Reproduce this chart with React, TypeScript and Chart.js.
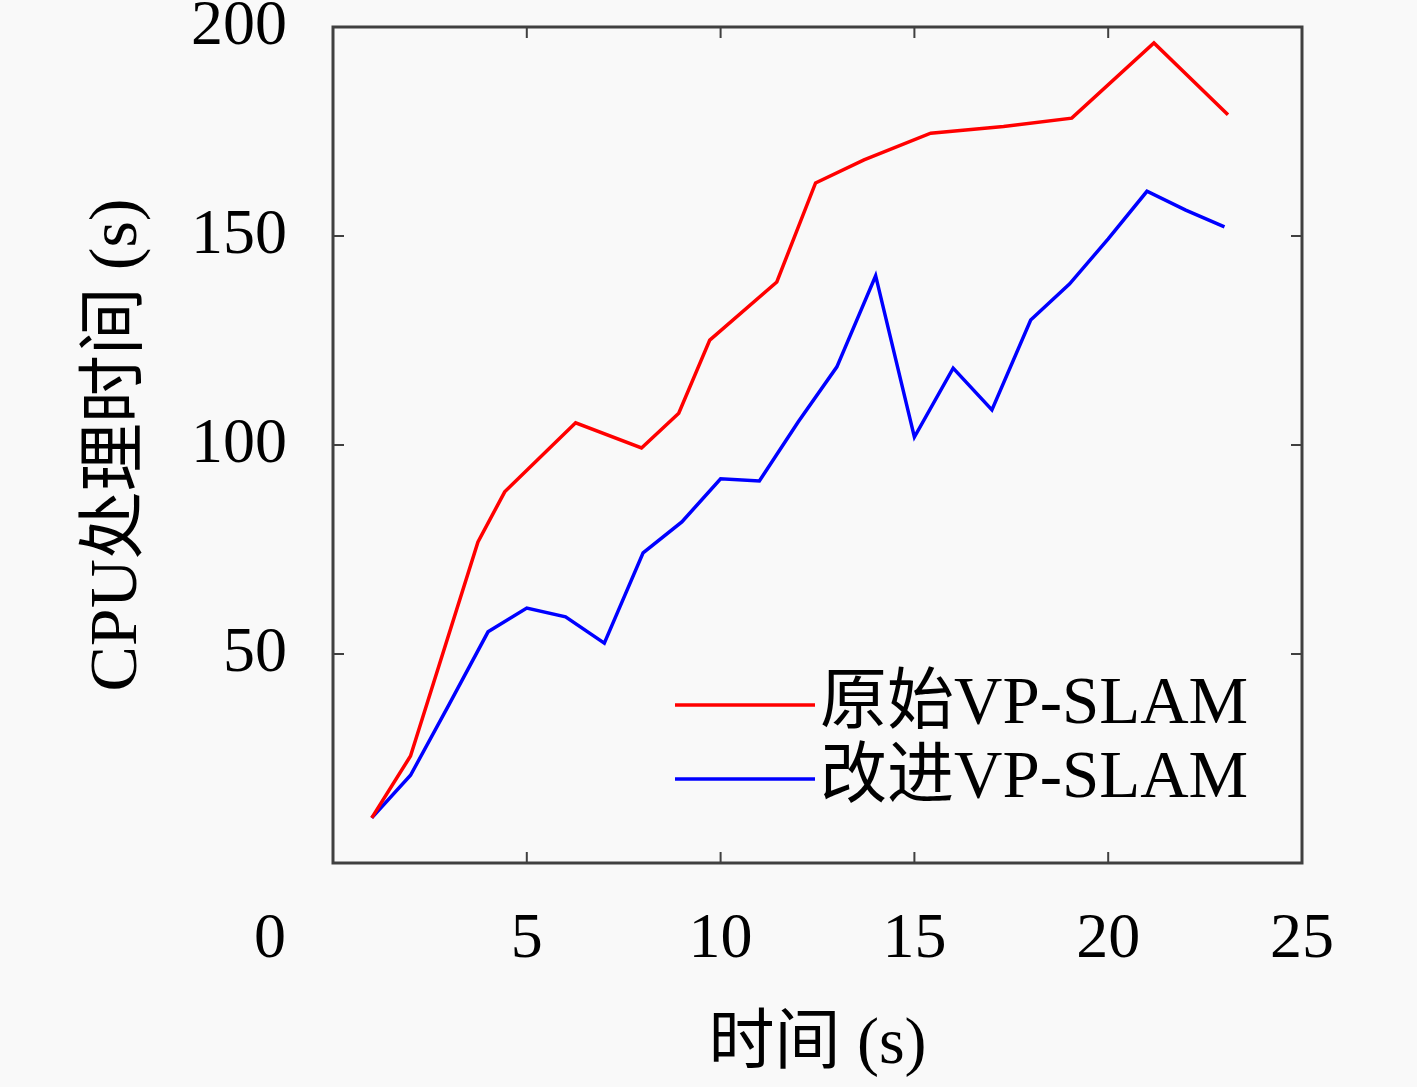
import Chart from 'chart.js/auto';
import { useEffect, useRef } from 'react';

const FONT = "'Liberation Serif', 'Noto Sans CJK SC', serif";
const AXIS_COLOR = '#404040';
const BG = '#f9f9f9';

// 原始VP-SLAM (irregular time stamps)
const originalX = [1.0, 2.0, 3.74, 4.43, 6.26, 7.96, 8.92, 9.72, 11.45, 12.45, 13.7, 15.42, 17.3, 19.06, 21.18, 23.09];
const originalY = [10.8, 25.6, 76.8, 88.8, 105.3, 99.3, 107.6, 125.1, 139.0, 162.7, 168.2, 174.6, 176.2, 178.2, 196.2, 179.0];

// 改进VP-SLAM
const improvedX = [1, 2, 3, 4, 5, 6, 7, 8, 9, 10, 11, 12, 13, 14, 15, 16, 17, 18, 19, 20, 21, 22, 23];
const improvedY = [10.8, 21.0, 38.0, 55.3, 61.0, 58.9, 52.6, 74.2, 81.6, 91.9, 91.4, 105.5, 118.7, 140.5, 101.9, 118.4, 108.4, 129.9, 138.5, 149.3, 160.7, 156.2, 152.2];

const seriesNames = ['原始VP-SLAM', '改进VP-SLAM'];
const seriesColors = ['#ff0000', '#0000ff'];

const xTickValues = [0, 5, 10, 15, 20, 25];
const yTickValues = [0, 50, 100, 150, 200];

const xTitle = '时间 (s)';
const yTitle = 'CPU处理时间 (s)';

// box, inward ticks, corner "0" and the in-plot legend
const framePlugin = {
	id: 'frame',
	beforeDraw(chart: Chart) {
		const { ctx, width, height } = chart;
		ctx.save();
		ctx.fillStyle = BG;
		ctx.fillRect(0, 0, width, height);
		ctx.restore();
	},
	afterDatasetsDraw(chart: Chart) {
		const { ctx, chartArea: a, scales } = chart;
		const tickLen = 11;
		ctx.save();
		ctx.strokeStyle = AXIS_COLOR;
		ctx.lineWidth = 2;
		ctx.beginPath();
		for (const t of scales.x.ticks) {
			const px = scales.x.getPixelForValue(t.value);
			if (px <= a.left + 1 || px >= a.right - 1) continue;
			ctx.moveTo(px, a.bottom);
			ctx.lineTo(px, a.bottom - tickLen);
			ctx.moveTo(px, a.top);
			ctx.lineTo(px, a.top + tickLen);
		}
		for (const t of scales.y.ticks) {
			const py = scales.y.getPixelForValue(t.value);
			if (py <= a.top + 1 || py >= a.bottom - 1) continue;
			ctx.moveTo(a.left, py);
			ctx.lineTo(a.left + tickLen, py);
			ctx.moveTo(a.right, py);
			ctx.lineTo(a.right - tickLen, py);
		}
		ctx.stroke();

		ctx.lineWidth = 3;
		ctx.strokeRect(a.left, a.top, a.right - a.left, a.bottom - a.top);

		ctx.fillStyle = '#000';
		ctx.font = `64px ${FONT}`;
		ctx.textAlign = 'center';
		ctx.textBaseline = 'middle';
		ctx.fillText('0', a.left - 63, a.bottom + 77);

		// legend
		const lx = a.right - 627;
		const ly = a.bottom - 158;
		ctx.font = `67px ${FONT}`;
		chart.data.datasets.forEach((ds, i) => {
			const y = ly + i * 74;
			ctx.strokeStyle = ds.borderColor as string;
			ctx.lineWidth = 3.5;
			ctx.beginPath();
			ctx.moveTo(lx, y);
			ctx.lineTo(lx + 140, y);
			ctx.stroke();
			ctx.textAlign = 'left';
			ctx.fillText(ds.label as string, lx + 145, y);
		});
		ctx.restore();
	},
};

function CpuTimeChart() {
	const chartRef = useRef<HTMLCanvasElement | null>(null);

	useEffect(() => {
		if (!chartRef.current) return;

		const existing = Chart.getChart(chartRef.current);
		if (existing) existing.destroy();

		const chart = new Chart(chartRef.current, {
			type: 'line',
			data: {
				datasets: [
					{
						label: seriesNames[0],
						data: originalX.map((x, i) => ({ x, y: originalY[i] })),
						borderColor: seriesColors[0],
						borderWidth: 3.5,
						pointRadius: 0,
						tension: 0,
						fill: false,
					},
					{
						label: seriesNames[1],
						data: improvedX.map((x, i) => ({ x, y: improvedY[i] })),
						borderColor: seriesColors[1],
						borderWidth: 3.5,
						pointRadius: 0,
						tension: 0,
						fill: false,
					},
				],
			},
			options: {
				responsive: false,
				animation: false,
				events: [],
				layout: {
					padding: { left: 0, top: 27, right: 115, bottom: 0 },
				},
				plugins: {
					legend: { display: false },
					tooltip: { enabled: false },
				},
				scales: {
					x: {
						type: 'linear',
						min: 0,
						max: 25,
						afterBuildTicks: (scale) => {
							scale.ticks = xTickValues.map((value) => ({ value }));
						},
						afterFit: (scale) => {
							scale.height = 224;
							scale.paddingLeft = 0;
							scale.paddingRight = 0;
						},
						grid: { display: false },
						border: { display: false },
						ticks: {
							padding: 31,
							color: '#000',
							font: { family: FONT, size: 64 },
							callback: (v) => (v === 0 ? '' : String(v)),
						},
						title: {
							display: true,
							text: xTitle,
							color: '#000',
							font: { family: FONT, size: 66 },
							padding: { top: 0, bottom: 2 },
						},
					},
					y: {
						type: 'linear',
						min: 0,
						max: 200,
						afterBuildTicks: (scale) => {
							scale.ticks = yTickValues.map((value) => ({ value }));
						},
						afterFit: (scale) => {
							scale.width = 333;
							scale.paddingTop = 0;
							scale.paddingBottom = 0;
						},
						grid: { display: false },
						border: { display: false },
						ticks: {
							padding: 38,
							color: '#000',
							font: { family: FONT, size: 64 },
							callback: (v) => (v === 0 ? '' : String(v)),
						},
						title: {
							display: true,
							text: yTitle,
							color: '#000',
							font: { family: FONT, size: 68 },
							padding: { top: 77, bottom: 0 },
						},
					},
				},
			},
			plugins: [framePlugin],
		});

		return () => {
			chart.destroy();
		};
	}, []);

	return <canvas ref={chartRef} width={1417} height={1087} style={{ display: 'block' }}></canvas>;
}

export default function App() {
	useEffect(() => {
		document.body.style.margin = '0';
		document.body.style.background = BG;
	}, []);

	return (
		<div style={{ position: 'absolute', left: 0, top: 0, width: 1417, height: 1087 }}>
			<CpuTimeChart />
		</div>
	);
}
